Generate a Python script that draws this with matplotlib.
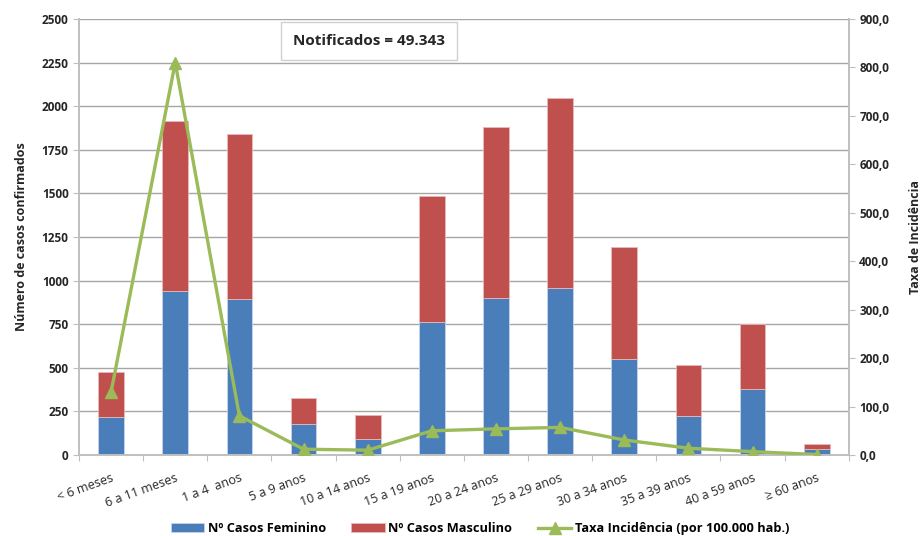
import matplotlib
matplotlib.use("Agg")
import matplotlib.pyplot as plt
import numpy as np

# ---------------------------------------------------------------- dados
faixas = ["< 6 meses", "6 a 11 meses", "1 a 4  anos", "5 a 9 anos", "10 a 14 anos",
          "15 a 19 anos", "20 a 24 anos", "25 a 29 anos", "30 a 34 anos",
          "35 a 39 anos", "40 a 59 anos", "≥ 60 anos"]
feminino = [220, 940, 895, 178, 94, 760, 900, 960, 550, 224, 377, 34]
total = [475, 1915, 1840, 325, 231, 1485, 1880, 2045, 1195, 515, 750, 63]
masculino = [t - f for t, f in zip(total, feminino)]
taxa = [130, 810, 81, 12, 10, 50, 54, 57, 31, 14, 7, 1]

AZUL, VERMELHO, VERDE = "#4a7ebb", "#c0504d", "#9bbb59"
GRADE, EIXO, TXT = "#a6a6a6", "#bfbfbf", "#262626"

plt.rcParams["font.family"] = ["Open Sans", "DejaVu Sans"]

fig = plt.figure(figsize=(9.23, 5.36), dpi=100)
ax = fig.add_axes([0.0856, 0.1511, 0.834, 0.8135])
ax2 = ax.twinx()

x = np.arange(len(faixas))
b1 = ax.bar(x, feminino, width=0.4, color=AZUL, edgecolor="#c6d5ea", lw=0.6,
            label="Nº Casos Feminino", zorder=2)
b2 = ax.bar(x, masculino, width=0.4, bottom=feminino, color=VERMELHO,
            edgecolor="#e6b9b8", lw=0.6, label="Nº Casos Masculino", zorder=2)
l1, = ax2.plot(x, taxa, color=VERDE, lw=2.4, marker="^", ms=8,
               label="Taxa Incidência (por 100.000 hab.)", zorder=3)

ax.set_xlim(-0.5, len(faixas) - 0.5)
ax.set_ylim(0, 2500)
ax.set_yticks(np.arange(0, 2501, 250))
ax2.set_ylim(0, 900)
ax2.set_yticks(np.arange(0, 901, 100))
ax2.set_yticklabels([f"{v:.1f}".replace(".", ",") for v in np.arange(0, 901, 100)])

ax.yaxis.grid(True, color=GRADE, lw=1.0, zorder=0)
ax.set_axisbelow(True)
for a in (ax, ax2):
    a.spines["top"].set_visible(False)
    for s in ("left", "right", "bottom"):
        a.spines[s].set_color(EIXO)
        a.spines[s].set_linewidth(1.2)
    a.tick_params(axis="y", colors=EIXO, labelcolor=TXT, labelsize=8.5, length=4)
    for lab in a.get_yticklabels():
        lab.set_fontweight("bold")

# ticks entre categorias no eixo x
ax.set_xticks(np.arange(-0.5, len(faixas), 1))
ax.set_xticklabels([])
ax.set_xticks(x, minor=True)
ax.set_xticklabels(faixas, minor=True, rotation=20, ha="right",
                   rotation_mode="anchor", fontsize=9, color=TXT)
ax.tick_params(axis="x", which="major", colors=EIXO, length=4)
ax.tick_params(axis="x", which="minor", length=0, pad=12)

ax.set_ylabel("Número de casos confirmados", fontsize=9, fontweight="bold",
              color=TXT, labelpad=10)
ax2.set_ylabel("Taxa de Incidência", fontsize=9, fontweight="bold",
               color=TXT, labelpad=14)

ax.text(0.377, 0.95, "Notificados = 49.343", transform=ax.transAxes,
        ha="center", va="center", fontsize=11, fontweight="bold", color=TXT,
        bbox=dict(boxstyle="square,pad=0.8", fc="white", ec="#d0d0d0", lw=1.0),
        zorder=5)

fig.legend(handles=[b1, b2, l1], loc="lower center", ncol=3, frameon=False,
           bbox_to_anchor=(0.52, -0.02), handlelength=2.6, handletextpad=0.3,
           columnspacing=2.0, prop=dict(weight="bold", size=9.2))

fig.savefig("out.png", dpi=100)
